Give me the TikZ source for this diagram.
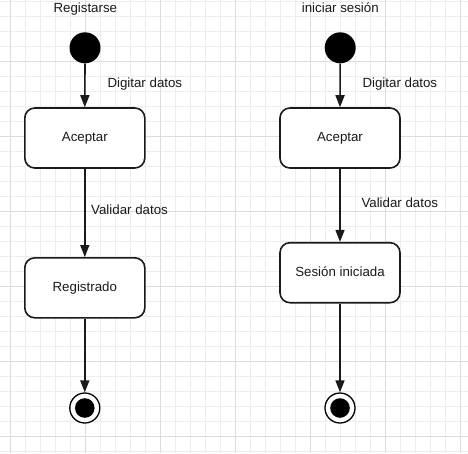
\documentclass[tikz,border=0pt]{standalone}
\usepackage{fontspec}
\setmainfont{Liberation Sans}
\usetikzlibrary{arrows.meta}
\definecolor{minorgrid}{HTML}{EDEDED}
\definecolor{majorgrid}{HTML}{DCDCDC}
\definecolor{ink}{HTML}{1A1A1A}
\begin{document}
\begin{tikzpicture}[x=1pt,y=-1pt,
  statebox/.style={draw=ink,line width=1.6pt,rounded corners=10pt,minimum width=120pt,minimum height=60pt,fill=white,text=ink,font=\fontsize{13.3}{15}\selectfont,inner sep=0pt,text height=9.5pt,text depth=2.5pt},
  startdot/.style={circle,fill=black,minimum size=31pt,inner sep=0pt},
  enddot/.style={circle,draw=black,line width=1.3pt,fill=white,minimum size=30pt,inner sep=0pt,
    path picture={\fill[black] (path picture bounding box.center) circle (9.8pt);}},
  lbl/.style={text=ink,font=\fontsize{13.3}{15}\selectfont,inner sep=0pt},
  flow/.style={draw=ink,line width=1.6pt,-{Triangle[length=12pt,width=9pt]}}]
\useasboundingbox (0,0) rectangle (468,453);
\fill[white] (0,0) rectangle (468,453);
% grid
\foreach \i in {0,...,30} {
  \draw[minorgrid,line width=1pt] ({10.7+15*\i},0) -- ({10.7+15*\i},453);
  \draw[minorgrid,line width=1pt] (0,{1.7+15*\i}) -- (468,{1.7+15*\i});
}
\foreach \i in {0,...,6} {
  \draw[majorgrid,line width=1pt] ({10.7+75*\i},0) -- ({10.7+75*\i},453);
}
\foreach \i in {0,...,5} {
  \draw[majorgrid,line width=1pt] (0,{61.7+75*\i}) -- (468,{61.7+75*\i});
}
% left diagram
\node[lbl,anchor=base] (t1) at (85.3,12.7) {Registarse};
\node[startdot] (s1) at (85,47.8) {};
\node[statebox] (a1) at (84.8,138) {Aceptar};
\node[statebox] (r1) at (84.8,287.8) {Registrado};
\node[enddot] (e1) at (84.8,408) {};
\node[lbl,anchor=base west] (d1) at (107.3,87.7) {Digitar datos};
\node[lbl,anchor=base west] (v1) at (91,214.7) {Validar datos};
\draw[flow] (s1.south) -- (a1.north);
\draw[flow] (a1.south) -- (r1.north);
\draw[flow] (r1.south) -- (e1.north);
% right diagram
\node[lbl,anchor=base] (t2) at (340.3,12.7) {iniciar sesión};
\node[startdot] (s2) at (340.2,47.8) {};
\node[statebox] (a2) at (340,138) {Aceptar};
\node[statebox] (r2) at (340,272.7) {Sesión iniciada};
\node[enddot] (e2) at (340,408) {};
\node[lbl,anchor=base west] (d2) at (362.3,87.7) {Digitar datos};
\node[lbl,anchor=base west] (v2) at (361.3,207.3) {Validar datos};
\draw[flow] (s2.south) -- (a2.north);
\draw[flow] (a2.south) -- (r2.north);
\draw[flow] (r2.south) -- (e2.north);
\end{tikzpicture}
\end{document}
